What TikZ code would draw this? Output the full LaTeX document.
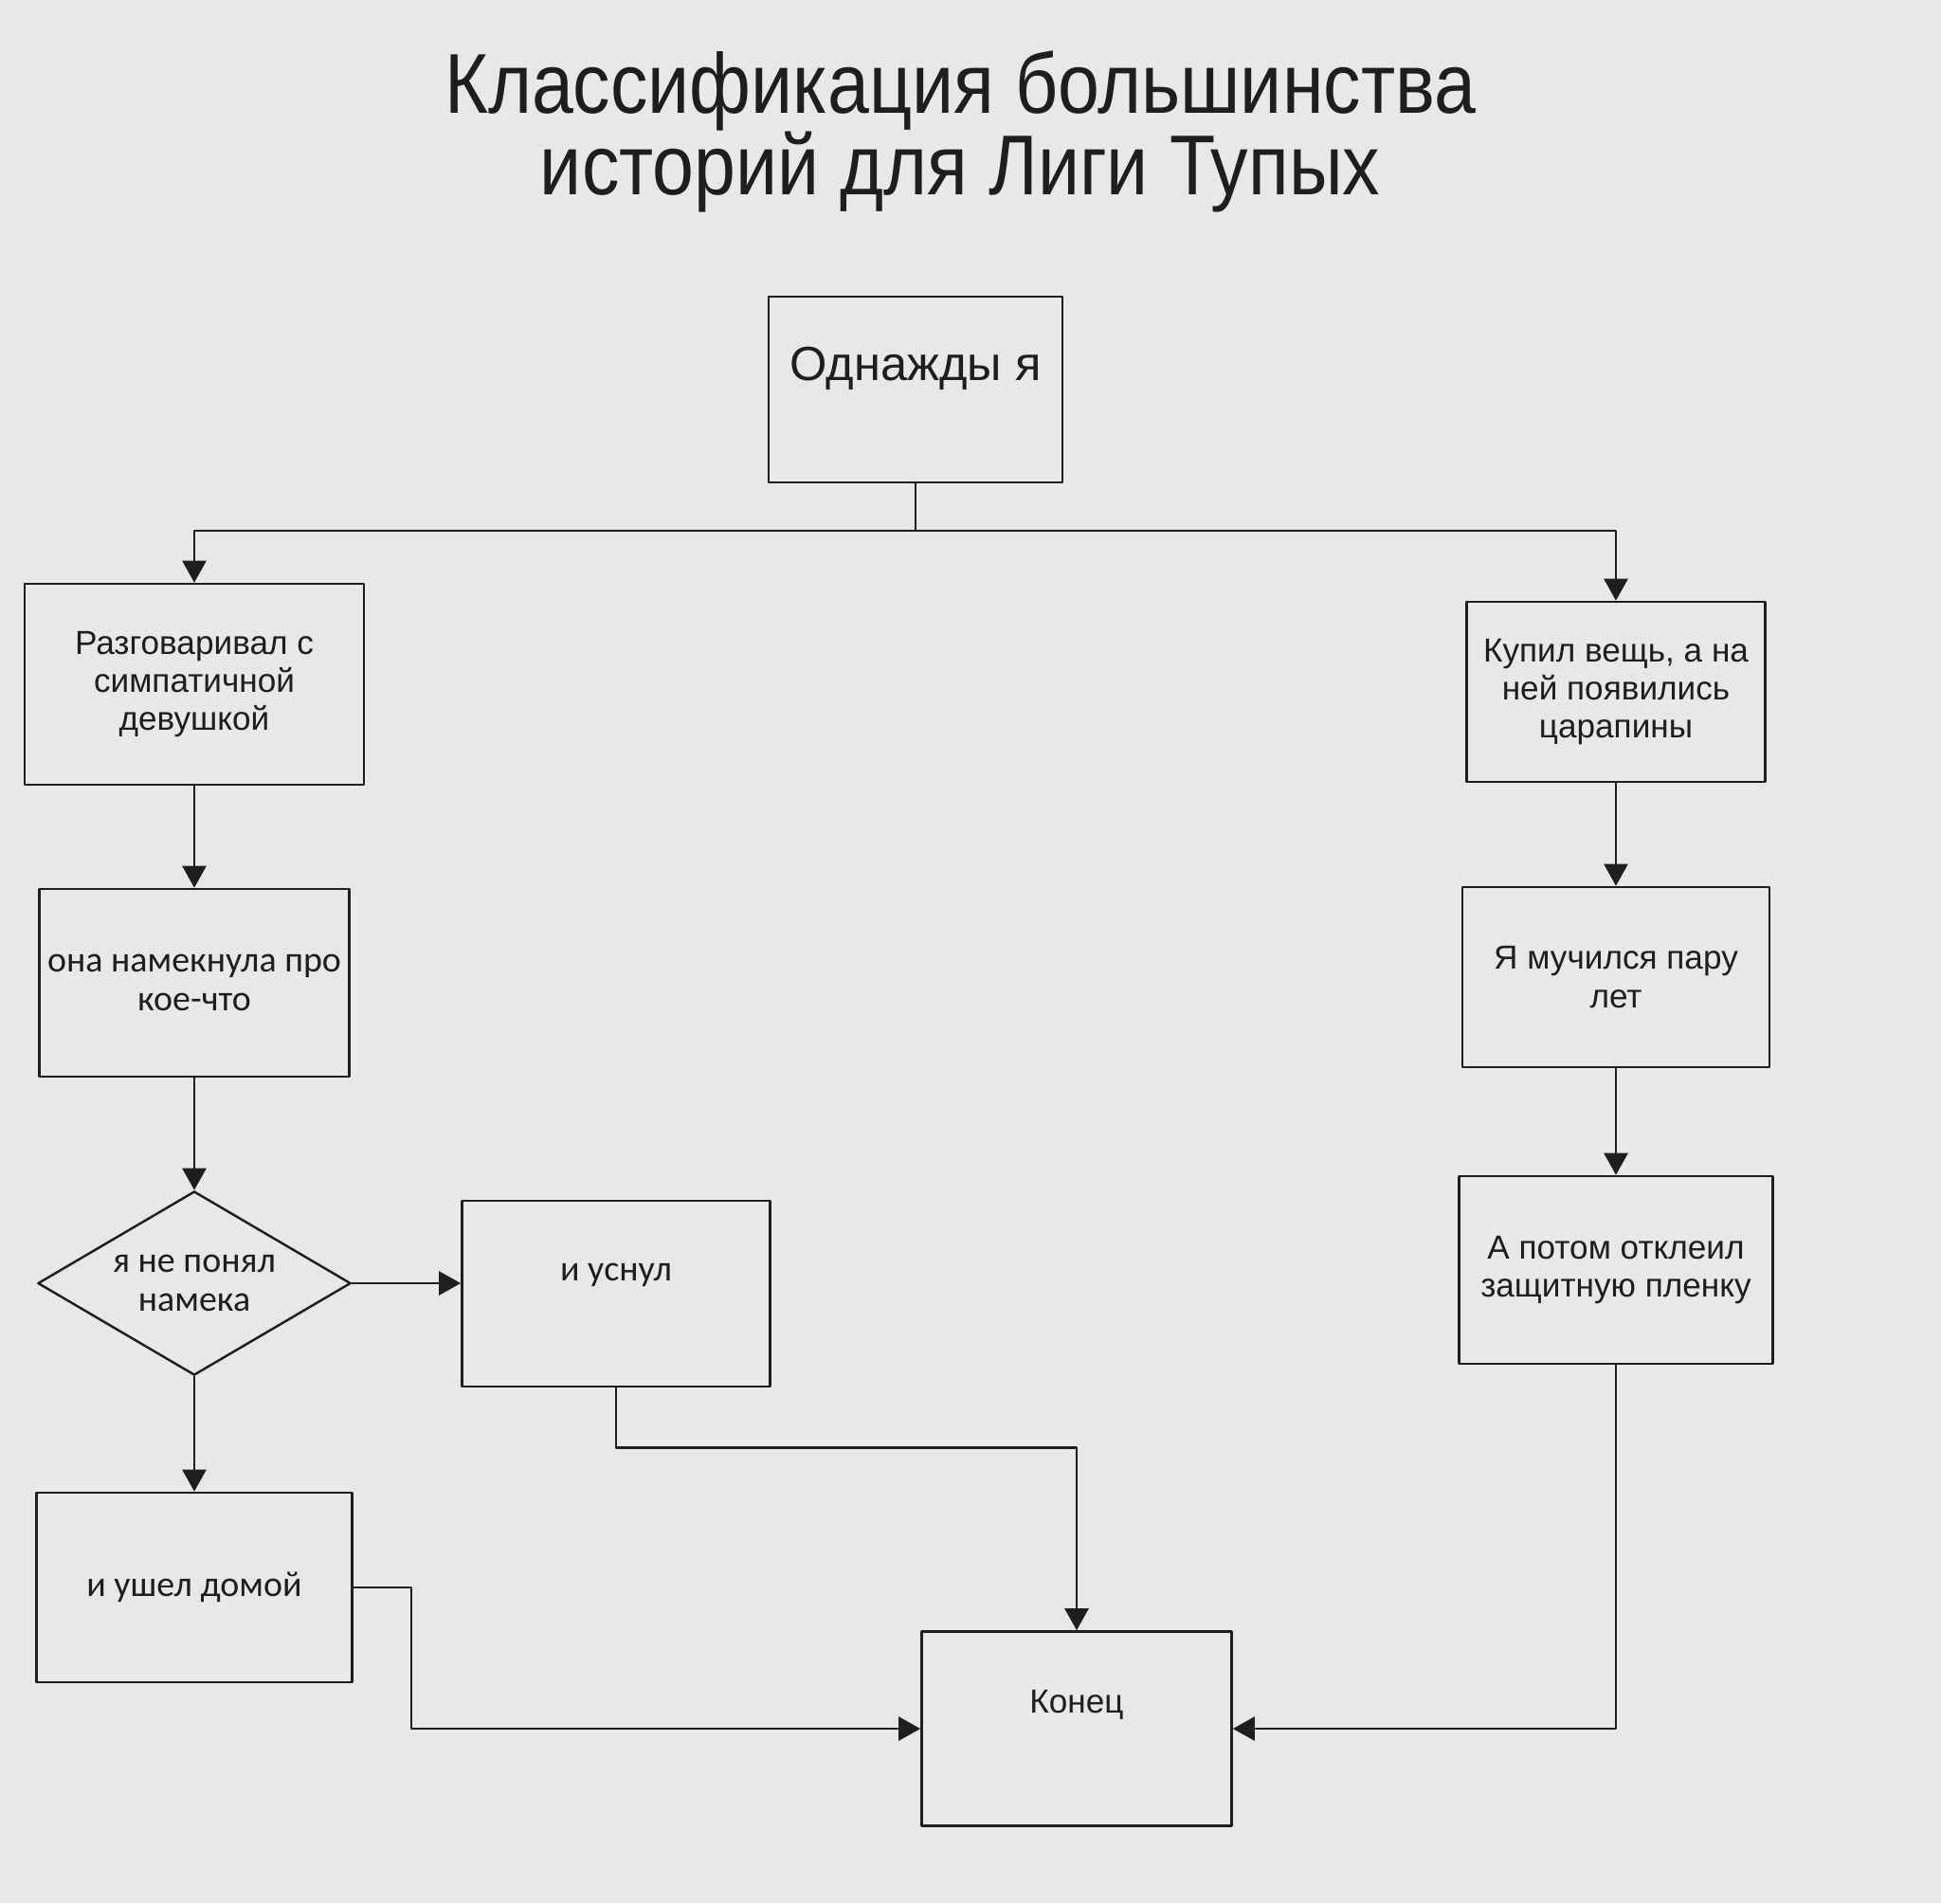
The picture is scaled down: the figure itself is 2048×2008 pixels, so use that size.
\documentclass[tikz,border=0pt]{standalone}
\usepackage{fontspec}
\setmainfont{Liberation Sans}
\newfontfamily\calfont{Carlito}
\newfontfamily\titlefont[FakeStretch=0.88]{Liberation Sans}
\usetikzlibrary{arrows.meta,shapes.geometric}
\definecolor{paper}{HTML}{E9E8E6}
\definecolor{ink}{HTML}{1E1E1E}
\newcommand\liftby[2]{\raisebox{#1}[\height][\depth]{#2}}

\begin{document}
\begin{tikzpicture}[line cap=round,line join=round,>={Triangle[length=2.3mm,width=2.5mm]},x=0.01cm,y=-0.01cm,
		box/.style={draw=ink,line width=0.7pt,rectangle,inner sep=0pt,align=center,text=ink,
			minimum width=3.25cm,minimum height=1.96cm,font=\fontsize{10}{11.5}\selectfont},
		calbox/.style={box,font=\calfont\fontsize{10.8}{11.5}\selectfont},
		decision/.style={draw=ink,line width=0.7pt,diamond,aspect=1.7,inner sep=0pt,align=center,text=ink,
			minimum width=3.3cm,minimum height=1.94cm,font=\calfont\fontsize{10.8}{11.5}\selectfont},
		flow/.style={draw=ink,line width=0.7pt}]
	\fill[paper] (0,0) rectangle (2048,2008);
	\useasboundingbox (0,0) rectangle (2048,2008);
	% heading
	\node[text=ink,align=center,font=\titlefont\fontsize{25.5}{24.5}\selectfont] (title) at (1013,139)
		{Классификация большинства\\историй для Лиги Тупых};
	% boxes
	\node[box,minimum width=3.1cm,font=\fontsize{14.4}{16}\selectfont] (start) at (966,411) {\liftby{0.22cm}{Однажды я}};
	\node[box,minimum width=3.58cm,minimum height=2.12cm] (talk) at (205,722) {Разговаривал с\\симпатичной\\девушкой};
	\node[calbox,minimum width=3.27cm,minimum height=1.98cm] (hint) at (205,1037) {она намекнула про\\кое-что};
	\node[decision] (miss) at (205,1354) {я не понял\\намека};
	\node[calbox] (sleep) at (650,1365) {\liftby{0.2cm}{и уснул}};
	\node[calbox,minimum width=3.33cm,minimum height=2cm] (home) at (205,1675) {и ушел домой};
	\node[box,minimum width=3.27cm,minimum height=2.05cm] (fin) at (1136,1824) {\liftby{0.25cm}{Конец}};
	\node[box,minimum width=3.15cm,minimum height=1.9cm] (buy) at (1705,730) {Купил вещь, а на\\ней появились\\царапины};
	\node[box,minimum width=3.24cm,minimum height=1.9cm] (suffer) at (1705,1031) {Я мучился пару\\лет};
	\node[box,minimum width=3.31cm,minimum height=1.98cm] (peel) at (1705,1340) {А потом отклеил\\защитную пленку};
	% connectors
	\coordinate (split) at (966,560);
	\draw[flow] (start.south) -- (split);
	\draw[flow,->] (split) -| (talk.north);
	\draw[flow,->] (split) -| (buy.north);
	\draw[flow,->] (talk) -- (hint);
	\draw[flow,->] (hint) -- (miss);
	\draw[flow,->] (miss.east) -- (miss.east -| sleep.west);
	\draw[flow,->] (miss) -- (home);
	\draw[flow,->] (home.east) -- ++(61,0) |- (fin.west);
	\draw[flow,->] (sleep.south) -- ++(0,63) -| (fin.north);
	\draw[flow,->] (buy) -- (suffer);
	\draw[flow,->] (suffer) -- (peel);
	\draw[flow,->] (peel.south) |- (fin.east);
\end{tikzpicture}
\end{document}
